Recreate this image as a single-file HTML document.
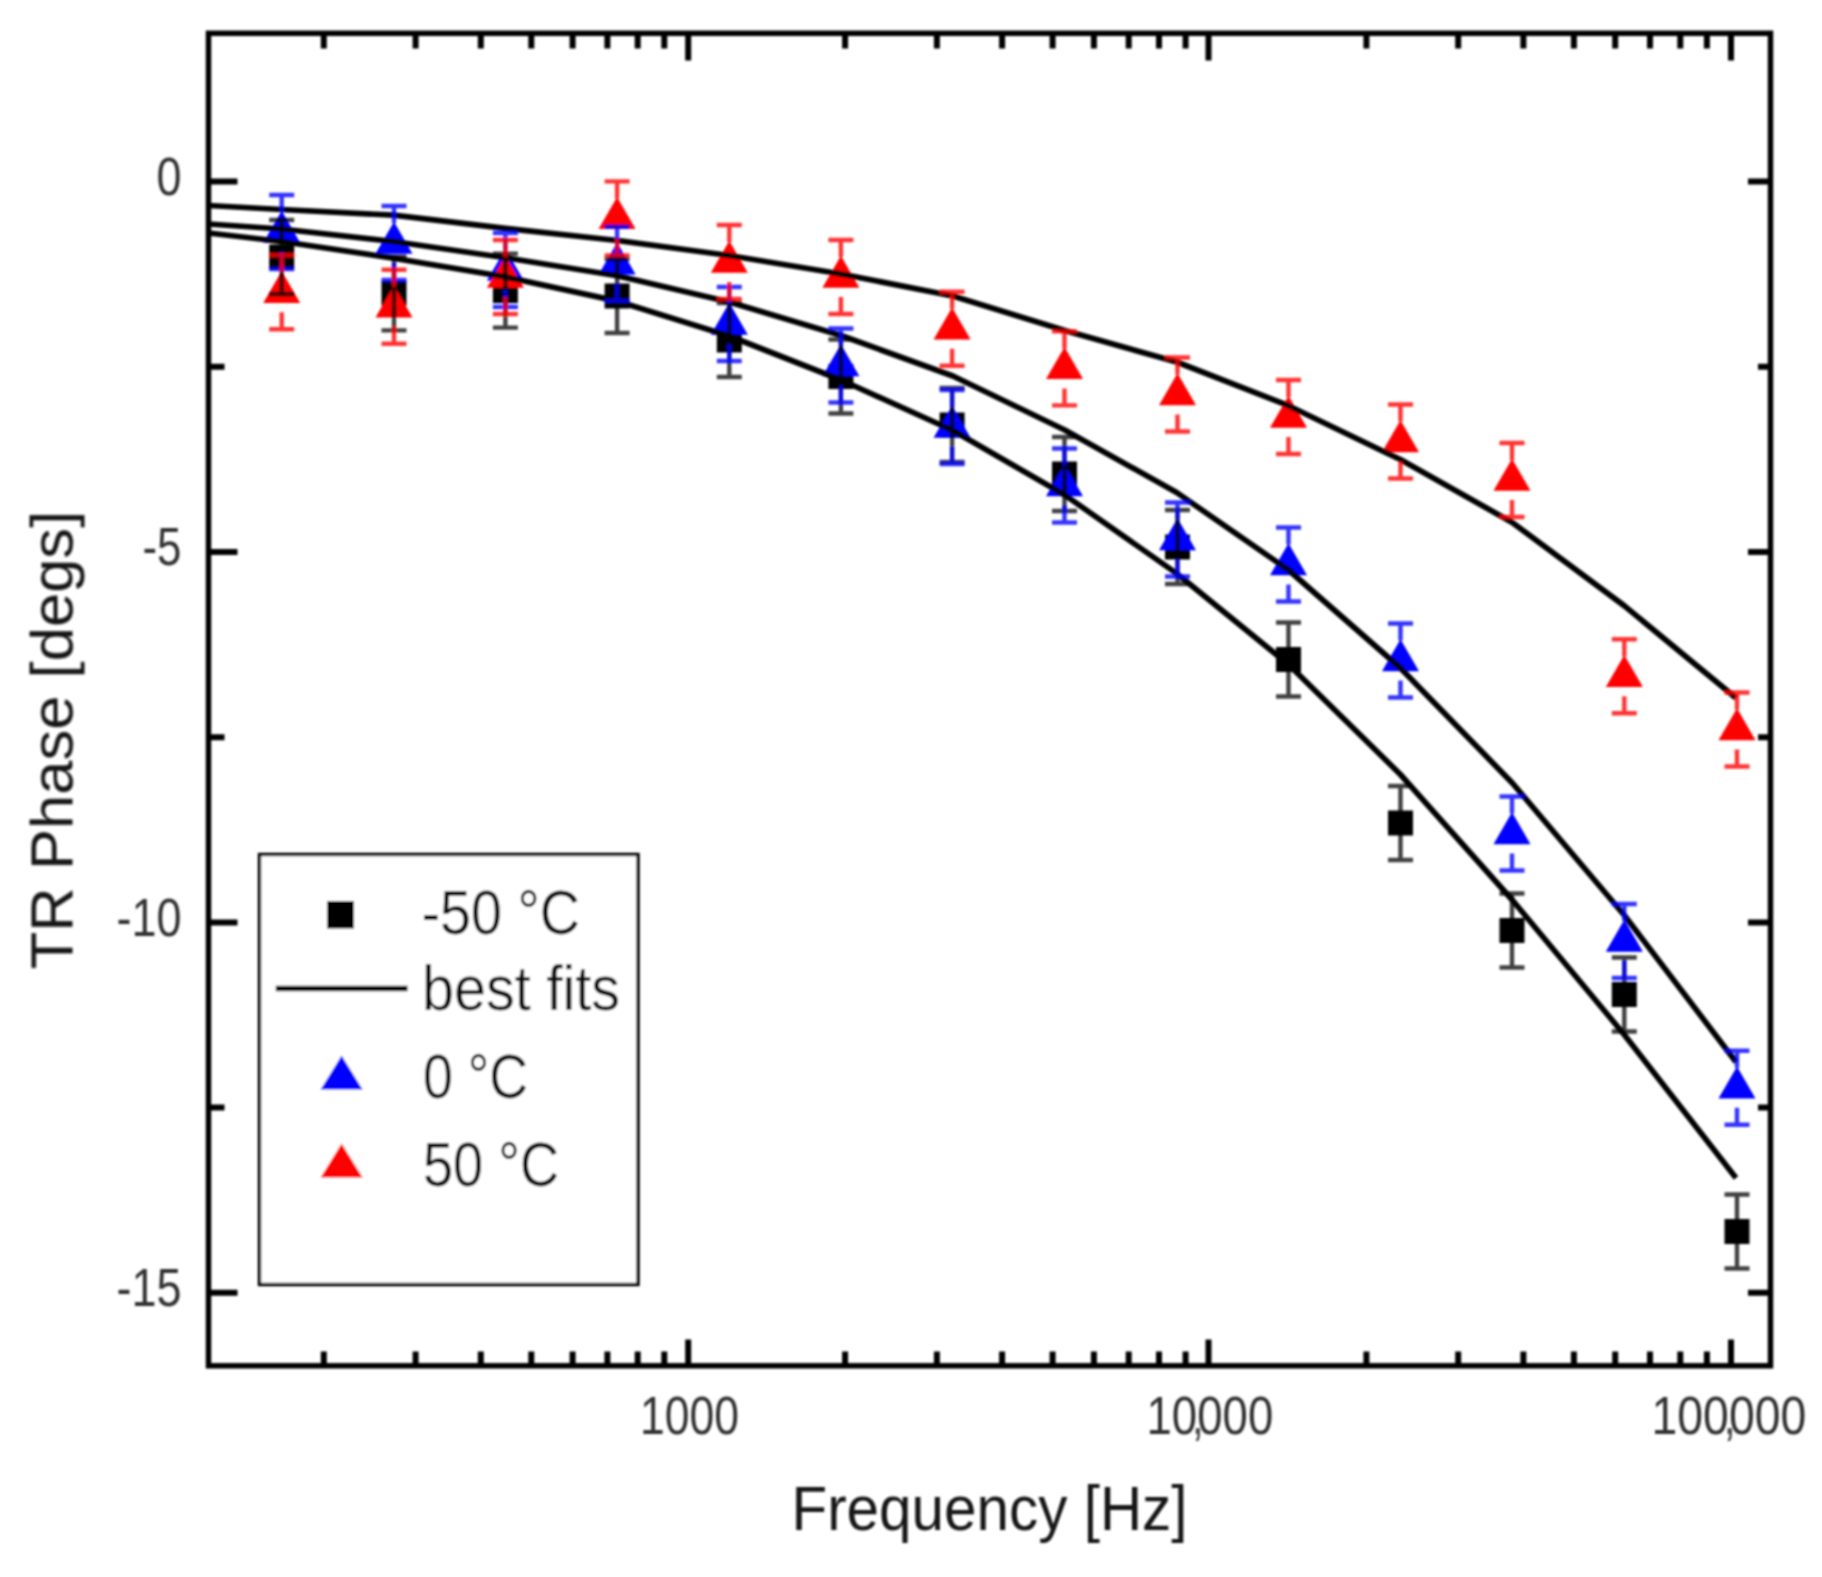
<!DOCTYPE html>
<html lang="en"><head><meta charset="utf-8"><title>TR Phase vs Frequency</title>
<style>html,body{margin:0;padding:0;background:#fff}body{width:1822px;height:1577px;overflow:hidden}svg{display:block}text{font-family:"Liberation Sans",sans-serif}</style>
</head><body>
<svg width="1822" height="1577" viewBox="0 0 1822 1577">
<defs><filter id="soft" x="0" y="0" width="100%" height="100%" filterUnits="userSpaceOnUse" primitiveUnits="userSpaceOnUse"><feGaussianBlur stdDeviation="0.9"/></filter></defs>
<rect width="1822" height="1577" fill="#fff"/>
<g filter="url(#soft)">
<g id="m-50" fill="#000">
<rect x="269.2" y="244.5" width="25" height="25"/>
<rect x="381.5" y="280.9" width="25" height="25"/>
<rect x="492.9" y="278.1" width="25" height="25"/>
<rect x="604.6" y="283.5" width="25" height="25"/>
<rect x="716.8" y="327.5" width="25" height="25"/>
<rect x="828.4" y="364.0" width="25" height="25"/>
<rect x="939.6" y="412.5" width="25" height="25"/>
<rect x="1052.0" y="461.5" width="25" height="25"/>
<rect x="1165.0" y="534.5" width="25" height="25"/>
<rect x="1276.0" y="647.0" width="25" height="25"/>
<rect x="1388.0" y="810.5" width="25" height="25"/>
<rect x="1499.5" y="918.0" width="25" height="25"/>
<rect x="1611.8" y="982.0" width="25" height="25"/>
<rect x="1724.5" y="1219.0" width="25" height="25"/>
</g>
<g id="m0" fill="#0000ff">
<polygon points="281.7,210.7 263.2,242.7 300.2,242.7"/>
<polygon points="394.0,221.7 375.5,253.7 412.5,253.7"/>
<polygon points="505.4,248.7 486.9,280.7 523.9,280.7"/>
<polygon points="617.1,242.4 598.6,274.4 635.6,274.4"/>
<polygon points="729.3,302.7 710.8,334.7 747.8,334.7"/>
<polygon points="840.9,344.2 822.4,376.2 859.4,376.2"/>
<polygon points="952.1,405.7 933.6,437.7 970.6,437.7"/>
<polygon points="1064.5,464.2 1046.0,496.2 1083.0,496.2"/>
<polygon points="1177.5,518.2 1159.0,550.2 1196.0,550.2"/>
<polygon points="1288.5,543.2 1270.0,575.2 1307.0,575.2"/>
<polygon points="1400.5,639.2 1382.0,671.2 1419.0,671.2"/>
<polygon points="1512.0,812.2 1493.5,844.2 1530.5,844.2"/>
<polygon points="1624.3,919.7 1605.8,951.7 1642.8,951.7"/>
<polygon points="1737.0,1066.4 1718.5,1098.4 1755.5,1098.4"/>
</g>
<g id="m50" fill="#ff0000">
<polygon points="281.7,271.0 263.2,303.0 300.2,303.0"/>
<polygon points="394.0,285.4 375.5,317.4 412.5,317.4"/>
<polygon points="505.4,255.7 486.9,287.7 523.9,287.7"/>
<polygon points="617.1,197.1 598.6,229.1 635.6,229.1"/>
<polygon points="729.3,240.7 710.8,272.7 747.8,272.7"/>
<polygon points="840.9,255.7 822.4,287.7 859.4,287.7"/>
<polygon points="952.1,307.5 933.6,339.5 970.6,339.5"/>
<polygon points="1064.5,347.1 1046.0,379.1 1083.0,379.1"/>
<polygon points="1177.5,373.2 1159.0,405.2 1196.0,405.2"/>
<polygon points="1288.5,395.7 1270.0,427.7 1307.0,427.7"/>
<polygon points="1400.5,420.2 1382.0,452.2 1419.0,452.2"/>
<polygon points="1512.0,458.7 1493.5,490.7 1530.5,490.7"/>
<polygon points="1624.3,655.0 1605.8,687.0 1642.8,687.0"/>
<polygon points="1737.0,708.2 1718.5,740.2 1755.5,740.2"/>
</g>
<g id="fits" fill="none" stroke="#000" stroke-width="5.7" stroke-linejoin="round" stroke-linecap="butt">
<polyline points="208.5,205.5 281.7,209.5 393.6,215.2 505.5,228.4 617.3,240.5 729.2,255.5 841.1,274.0 952.9,296.0 1064.8,330.5 1176.7,362.0 1288.5,405.7 1400.4,459.5 1512.3,522.5 1624.1,605.6 1736.0,698.0"/>
<polyline points="208.5,224.0 281.7,229.0 393.6,241.5 505.5,257.7 617.3,275.7 729.2,302.0 841.1,335.5 952.9,376.0 1064.8,430.0 1176.7,492.5 1288.5,570.0 1400.4,668.0 1512.3,783.0 1624.1,915.0 1736.0,1062.0"/>
<polyline points="208.5,233.0 281.7,241.5 393.6,258.2 505.5,276.9 617.3,301.1 729.2,336.0 841.1,380.0 952.9,430.5 1064.8,495.0 1176.7,573.5 1288.5,664.5 1400.4,774.5 1512.3,900.0 1624.1,1034.5 1736.0,1178.0"/>
</g>
<path id="e-50" fill="none" stroke="#000" stroke-opacity="0.75" stroke-width="4.4" d="M269.2 220.0H294.2M269.2 294.0H294.2M281.7 220.0V294.0M381.5 256.4H406.5M381.5 330.4H406.5M394.0 256.4V330.4M492.9 253.6H517.9M492.9 327.6H517.9M505.4 253.6V327.6M604.6 259.0H629.6M604.6 333.0H629.6M617.1 259.0V333.0M716.8 303.0H741.8M716.8 377.0H741.8M729.3 303.0V377.0M828.4 339.5H853.4M828.4 413.5H853.4M840.9 339.5V413.5M939.6 388.0H964.6M939.6 462.0H964.6M952.1 388.0V462.0M1052.0 437.0H1077.0M1052.0 511.0H1077.0M1064.5 437.0V511.0M1165.0 510.0H1190.0M1165.0 584.0H1190.0M1177.5 510.0V584.0M1276.0 622.5H1301.0M1276.0 696.5H1301.0M1288.5 622.5V696.5M1388.0 786.0H1413.0M1388.0 860.0H1413.0M1400.5 786.0V860.0M1499.5 893.5H1524.5M1499.5 967.5H1524.5M1512.0 893.5V967.5M1611.8 957.5H1636.8M1611.8 1031.5H1636.8M1624.3 957.5V1031.5M1724.5 1194.5H1749.5M1724.5 1268.5H1749.5M1737.0 1194.5V1268.5"/>
<path id="e0" fill="none" stroke="#0000ff" stroke-opacity="0.80" stroke-width="4.4" d="M269.2 195.0H294.2M269.2 269.0H294.2M281.7 195.0V212.0M281.7 252.0V269.0M381.5 206.0H406.5M381.5 280.0H406.5M394.0 206.0V223.0M394.0 263.0V280.0M492.9 233.0H517.9M492.9 307.0H517.9M505.4 233.0V250.0M505.4 290.0V307.0M604.6 226.7H629.6M604.6 300.7H629.6M617.1 226.7V243.7M617.1 283.7V300.7M716.8 287.0H741.8M716.8 361.0H741.8M729.3 287.0V304.0M729.3 344.0V361.0M828.4 328.5H853.4M828.4 402.5H853.4M840.9 328.5V345.5M840.9 385.5V402.5M939.6 390.0H964.6M939.6 464.0H964.6M952.1 390.0V407.0M952.1 447.0V464.0M1052.0 448.5H1077.0M1052.0 522.5H1077.0M1064.5 448.5V465.5M1064.5 505.5V522.5M1165.0 502.5H1190.0M1165.0 576.5H1190.0M1177.5 502.5V519.5M1177.5 559.5V576.5M1276.0 527.5H1301.0M1276.0 601.5H1301.0M1288.5 527.5V544.5M1288.5 584.5V601.5M1388.0 623.5H1413.0M1388.0 697.5H1413.0M1400.5 623.5V640.5M1400.5 680.5V697.5M1499.5 796.5H1524.5M1499.5 870.5H1524.5M1512.0 796.5V813.5M1512.0 853.5V870.5M1611.8 904.0H1636.8M1611.8 978.0H1636.8M1624.3 904.0V921.0M1624.3 961.0V978.0M1724.5 1050.7H1749.5M1724.5 1124.7H1749.5M1737.0 1050.7V1067.7M1737.0 1107.7V1124.7"/>
<path id="e50" fill="none" stroke="#ff0000" stroke-opacity="0.80" stroke-width="4.4" d="M269.2 255.3H294.2M269.2 329.3H294.2M281.7 255.3V272.3M281.7 312.3V329.3M381.5 269.7H406.5M381.5 343.7H406.5M394.0 269.7V286.7M394.0 326.7V343.7M492.9 240.0H517.9M492.9 314.0H517.9M505.4 240.0V257.0M505.4 297.0V314.0M604.6 181.4H629.6M604.6 255.4H629.6M617.1 181.4V198.4M617.1 238.4V255.4M716.8 225.0H741.8M716.8 299.0H741.8M729.3 225.0V242.0M729.3 282.0V299.0M828.4 240.0H853.4M828.4 314.0H853.4M840.9 240.0V257.0M840.9 297.0V314.0M939.6 291.8H964.6M939.6 365.8H964.6M952.1 291.8V308.8M952.1 348.8V365.8M1052.0 331.4H1077.0M1052.0 405.4H1077.0M1064.5 331.4V348.4M1064.5 388.4V405.4M1165.0 357.5H1190.0M1165.0 431.5H1190.0M1177.5 357.5V374.5M1177.5 414.5V431.5M1276.0 380.0H1301.0M1276.0 454.0H1301.0M1288.5 380.0V397.0M1288.5 437.0V454.0M1388.0 404.5H1413.0M1388.0 478.5H1413.0M1400.5 404.5V421.5M1400.5 461.5V478.5M1499.5 443.0H1524.5M1499.5 517.0H1524.5M1512.0 443.0V460.0M1512.0 500.0V517.0M1611.8 639.3H1636.8M1611.8 713.3H1636.8M1624.3 639.3V656.3M1624.3 696.3V713.3M1724.5 692.5H1749.5M1724.5 766.5H1749.5M1737.0 692.5V709.5M1737.0 749.5V766.5"/>
<g id="axes" fill="none" stroke="#000" stroke-width="6">
<rect x="208.5" y="33.3" width="1562.0" height="1332.5" stroke-width="5.5"/>
<path d="M688.2 33.3V60.5M688.2 1365.8V1339.5M1208.5 33.3V60.5M1208.5 1365.8V1339.5M1731.0 33.3V60.5M1731.0 1365.8V1339.5M323.8 33.3V48.5M323.8 1365.8V1351.5M415.6 33.3V48.5M415.6 1365.8V1351.5M480.8 33.3V48.5M480.8 1365.8V1351.5M531.3 33.3V48.5M531.3 1365.8V1351.5M572.6 33.3V48.5M572.6 1365.8V1351.5M607.4 33.3V48.5M607.4 1365.8V1351.5M637.7 33.3V48.5M637.7 1365.8V1351.5M664.3 33.3V48.5M664.3 1365.8V1351.5M845.1 33.3V48.5M845.1 1365.8V1351.5M936.9 33.3V48.5M936.9 1365.8V1351.5M1002.1 33.3V48.5M1002.1 1365.8V1351.5M1052.6 33.3V48.5M1052.6 1365.8V1351.5M1093.9 33.3V48.5M1093.9 1365.8V1351.5M1128.7 33.3V48.5M1128.7 1365.8V1351.5M1159.0 33.3V48.5M1159.0 1365.8V1351.5M1185.6 33.3V48.5M1185.6 1365.8V1351.5M1366.4 33.3V48.5M1366.4 1365.8V1351.5M1458.2 33.3V48.5M1458.2 1365.8V1351.5M1523.4 33.3V48.5M1523.4 1365.8V1351.5M1573.9 33.3V48.5M1573.9 1365.8V1351.5M1615.2 33.3V48.5M1615.2 1365.8V1351.5M1650.0 33.3V48.5M1650.0 1365.8V1351.5M1680.3 33.3V48.5M1680.3 1365.8V1351.5M1706.9 33.3V48.5M1706.9 1365.8V1351.5M208.5 181.6H237.5M1770.5 181.6H1748.0M208.5 552.0H237.5M1770.5 552.0H1748.0M208.5 922.4H237.5M1770.5 922.4H1748.0M208.5 1292.8H237.5M1770.5 1292.8H1748.0M208.5 366.8H224.5M1770.5 366.8H1758.0M208.5 737.2H224.5M1770.5 737.2H1758.0M208.5 1107.6H224.5M1770.5 1107.6H1758.0"/>
</g>
<g id="ticklabels" fill="#333" font-size="53">
<text x="181.5" y="194.9" text-anchor="end" textLength="25.0" lengthAdjust="spacingAndGlyphs">0</text>
<text x="181.5" y="565.3" text-anchor="end" textLength="39.0" lengthAdjust="spacingAndGlyphs">-5</text>
<text x="181.5" y="935.7" text-anchor="end" textLength="65.0" lengthAdjust="spacingAndGlyphs">-10</text>
<text x="181.5" y="1306.1" text-anchor="end" textLength="65.0" lengthAdjust="spacingAndGlyphs">-15</text>
<text x="689.6" y="1433.5" text-anchor="middle" textLength="99.0" lengthAdjust="spacingAndGlyphs">1000</text>
<text transform="translate(1146.5,1433.5) scale(0.86,1)">10<tspan dx="-6.5" fill="#4a4a4a">,</tspan><tspan dx="-8.2">000</tspan></text>
<text transform="translate(1651.5,1433.5) scale(0.875,1)">100<tspan dx="-6.5" fill="#4a4a4a">,</tspan><tspan dx="-8.2">000</tspan></text>
</g>
<g id="titles" fill="#161616">
<text x="791.5" y="1529.6" font-size="63.5" textLength="396" lengthAdjust="spacingAndGlyphs">Frequency [Hz]</text>
<text transform="translate(72.5,969.3) rotate(-90)" font-size="59.5" textLength="458.5" lengthAdjust="spacingAndGlyphs">TR Phase [degs]</text>
</g>
<g id="legend">
<rect x="259.5" y="854.5" width="378.5" height="430" fill="#fff" stroke="#000" stroke-width="3.4"/>
<rect x="327" y="901" width="27" height="27.5" fill="#000"/>
<path d="M275.8 988.6H407.5" stroke="#000" stroke-width="5.5"/>
<polygon points="341.6,1055.5 320.6,1089.5 362.6,1089.5" fill="#0000ff"/>
<polygon points="341.6,1143.5 320.6,1177.5 362.6,1177.5" fill="#ff0000"/>
<g fill="#111" font-size="63.5">
<text x="421.5" y="933.7" textLength="158.5" lengthAdjust="spacingAndGlyphs">-50 °C</text>
<text x="422" y="1009.7" textLength="198" lengthAdjust="spacingAndGlyphs">best fits</text>
<text x="423" y="1098.3" textLength="105" lengthAdjust="spacingAndGlyphs">0 °C</text>
<text x="423" y="1186.2" textLength="136" lengthAdjust="spacingAndGlyphs">50 °C</text>
</g></g>
</g>
</svg>
</body></html>
